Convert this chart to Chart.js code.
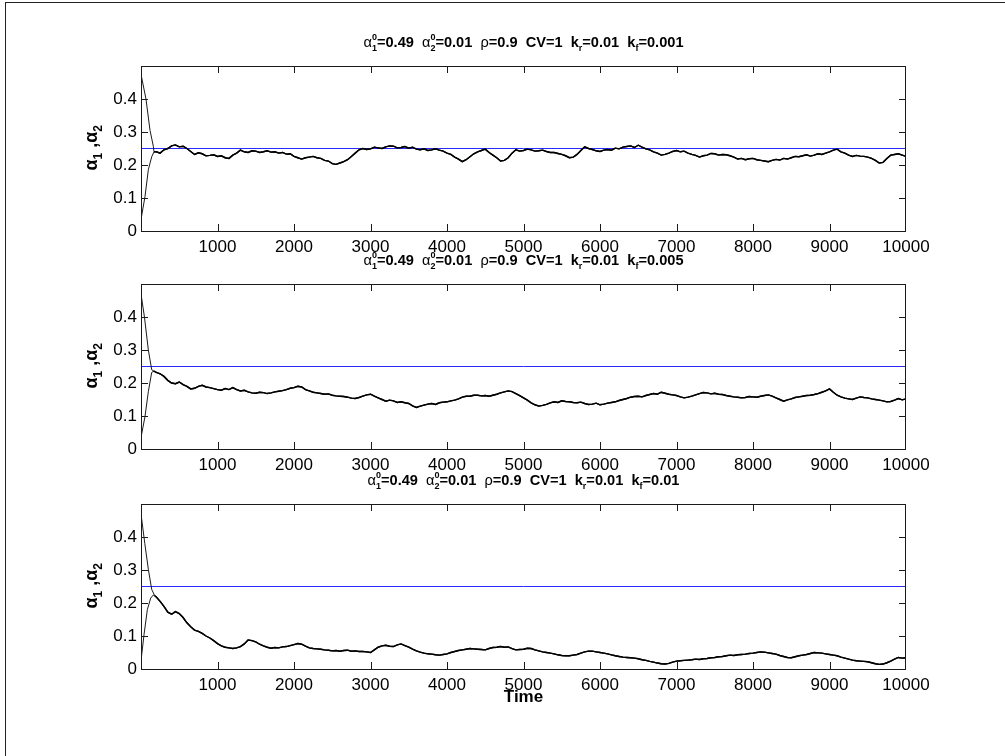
<!DOCTYPE html>
<html>
<head>
<meta charset="utf-8">
<script src="https://cdn.jsdelivr.net/npm/chart.js@4/dist/chart.umd.min.js"></script>
<style>
html, body { margin: 0; padding: 0; background: #fff; }
body { width: 1005px; height: 756px; position: relative; overflow: hidden; }
#frame { position: absolute; left: 5px; top: 2px; width: 1100px; height: 900px;
         border-left: 1px solid #222; border-top: 1px solid #222; }
canvas { position: absolute; left: 0; }
#xlabel { position: absolute; left: 141px; width: 765px; top: 687px; text-align: center;
          font: bold 17px Arial, "Liberation Sans", sans-serif; color: #000; }
</style>
</head>
<body>
<div id="frame"></div>
<canvas id="c1" width="1005" height="251" style="top:20px"></canvas>
<canvas id="c2" width="1005" height="251" style="top:238px"></canvas>
<canvas id="c3" width="1005" height="251" style="top:458px"></canvas>
<div id="xlabel">Time</div>
<script>
// =========================
// DATA
// =========================
const xTicks = [1000, 2000, 3000, 4000, 5000, 6000, 7000, 8000, 9000, 10000];
const yTicks = [0, 0.1, 0.2, 0.3, 0.4];
const target = 0.25;
const kfLabels = ["0.001", "0.005", "0.01"];

// start-up transients: alpha1 falls, alpha2 rises, until they meet
const riseTime1 = [0, 52, 96, 140, 170];
const alpha2Rise1 = [0.035, 0.104, 0.186, 0.225, 0.240];
const fallTime1 = [0, 65, 118, 161, 170];
const alpha1Fall1 = [0.475, 0.400, 0.305, 0.257, 0.240];

const riseTime2 = [0, 52, 96, 140, 170];
const alpha2Rise2 = [0.035, 0.098, 0.174, 0.232, 0.236];
const fallTime2 = [0, 45, 96, 140, 170];
const alpha1Fall2 = [0.470, 0.400, 0.300, 0.240, 0.236];

const riseTime3 = [0, 40, 83, 127, 160, 180];
const alpha2Rise3 = [0.025, 0.105, 0.180, 0.215, 0.224, 0.222];
const fallTime3 = [0, 50, 96, 140, 180];
const alpha1Fall3 = [0.470, 0.380, 0.302, 0.241, 0.222];

// common path after the two meet, every 50 time units from t=200 (one row = 500 units)
const merged1 = [
  0.240, 0.236, 0.246, 0.250, 0.258, 0.261, 0.255, 0.257, 0.250, 0.241,
  0.232, 0.237, 0.234, 0.228, 0.229, 0.231, 0.226, 0.228, 0.222, 0.220,
  0.230, 0.236, 0.245, 0.240, 0.238, 0.243, 0.242, 0.238, 0.240, 0.243,
  0.239, 0.240, 0.236, 0.238, 0.233, 0.234, 0.226, 0.222, 0.218, 0.222,
  0.224, 0.226, 0.222, 0.220, 0.214, 0.212, 0.204, 0.202, 0.206, 0.210,
  0.216, 0.226, 0.236, 0.246, 0.250, 0.247, 0.249, 0.254, 0.252, 0.250,
  0.255, 0.258, 0.257, 0.252, 0.253, 0.256, 0.251, 0.254, 0.248, 0.246,
  0.249, 0.244, 0.246, 0.249, 0.245, 0.242, 0.236, 0.232, 0.224, 0.218,
  0.210, 0.216, 0.225, 0.234, 0.240, 0.244, 0.248, 0.238, 0.230, 0.222,
  0.212, 0.214, 0.222, 0.236, 0.246, 0.242, 0.244, 0.248, 0.246, 0.242,
  0.243, 0.245, 0.241, 0.238, 0.238, 0.235, 0.232, 0.228, 0.222, 0.224,
  0.232, 0.244, 0.255, 0.250, 0.247, 0.243, 0.241, 0.245, 0.247, 0.245,
  0.251, 0.249, 0.254, 0.256, 0.258, 0.253, 0.260, 0.254, 0.249, 0.246,
  0.240, 0.236, 0.230, 0.232, 0.236, 0.241, 0.244, 0.240, 0.242, 0.236,
  0.232, 0.229, 0.224, 0.228, 0.230, 0.235, 0.234, 0.230, 0.232, 0.231,
  0.228, 0.224, 0.218, 0.220, 0.216, 0.219, 0.220, 0.216, 0.214, 0.212,
  0.210, 0.214, 0.217, 0.215, 0.220, 0.218, 0.222, 0.226, 0.225, 0.228,
  0.231, 0.227, 0.230, 0.234, 0.232, 0.236, 0.240, 0.245, 0.248, 0.240,
  0.236, 0.230, 0.226, 0.229, 0.227, 0.226, 0.224, 0.220, 0.214, 0.206,
  0.208, 0.220, 0.230, 0.232, 0.234, 0.230, 0.226
];
const merged2 = [
  0.232, 0.228, 0.220, 0.208, 0.200, 0.198, 0.203, 0.195, 0.190, 0.182,
  0.184, 0.190, 0.193, 0.188, 0.186, 0.183, 0.180, 0.178, 0.183, 0.180,
  0.186, 0.180, 0.176, 0.178, 0.173, 0.170, 0.169, 0.172, 0.171, 0.168,
  0.170, 0.173, 0.175, 0.177, 0.180, 0.184, 0.186, 0.190, 0.188, 0.180,
  0.176, 0.172, 0.170, 0.168, 0.166, 0.167, 0.163, 0.161, 0.160, 0.159,
  0.157, 0.154, 0.153, 0.156, 0.160, 0.164, 0.166, 0.160, 0.155, 0.150,
  0.145, 0.148, 0.146, 0.141, 0.143, 0.140, 0.138, 0.131, 0.126, 0.130,
  0.133, 0.136, 0.138, 0.135, 0.140, 0.142, 0.143, 0.146, 0.148, 0.152,
  0.157, 0.160, 0.160, 0.163, 0.163, 0.161, 0.162, 0.160, 0.163, 0.166,
  0.170, 0.173, 0.176, 0.174, 0.168, 0.162, 0.155, 0.148, 0.140, 0.134,
  0.130, 0.132, 0.135, 0.140, 0.143, 0.141, 0.146, 0.144, 0.143, 0.141,
  0.140, 0.142, 0.138, 0.135, 0.136, 0.139, 0.134, 0.136, 0.139, 0.141,
  0.143, 0.147, 0.150, 0.153, 0.157, 0.159, 0.160, 0.158, 0.162, 0.165,
  0.168, 0.166, 0.172, 0.169, 0.166, 0.164, 0.162, 0.158, 0.155, 0.157,
  0.160, 0.164, 0.168, 0.171, 0.170, 0.167, 0.169, 0.166, 0.165, 0.162,
  0.160, 0.158, 0.157, 0.155, 0.156, 0.159, 0.158, 0.157, 0.160, 0.162,
  0.164, 0.160, 0.155, 0.150, 0.145, 0.149, 0.152, 0.156, 0.158, 0.160,
  0.162, 0.163, 0.165, 0.168, 0.172, 0.176, 0.182, 0.172, 0.163, 0.158,
  0.154, 0.152, 0.150, 0.154, 0.158, 0.156, 0.155, 0.152, 0.150, 0.148,
  0.146, 0.143, 0.144, 0.148, 0.153, 0.149, 0.152
];
const merged3 = [
  0.218, 0.205, 0.190, 0.172, 0.166, 0.174, 0.168, 0.156, 0.140, 0.128,
  0.118, 0.114, 0.108, 0.100, 0.094, 0.086, 0.077, 0.070, 0.066, 0.064,
  0.062, 0.064, 0.068, 0.076, 0.088, 0.086, 0.082, 0.075, 0.070, 0.066,
  0.063, 0.065, 0.064, 0.067, 0.068, 0.071, 0.074, 0.077, 0.075, 0.069,
  0.064, 0.062, 0.061, 0.060, 0.058, 0.057, 0.055, 0.056, 0.054, 0.056,
  0.057, 0.054, 0.055, 0.053, 0.053, 0.052, 0.050, 0.058, 0.066, 0.070,
  0.072, 0.069, 0.068, 0.073, 0.076, 0.071, 0.066, 0.060, 0.055, 0.051,
  0.048, 0.046, 0.045, 0.043, 0.042, 0.044, 0.046, 0.050, 0.053, 0.056,
  0.058, 0.060, 0.062, 0.061, 0.060, 0.059, 0.058, 0.062, 0.065, 0.066,
  0.068, 0.066, 0.067, 0.062, 0.058, 0.059, 0.060, 0.063, 0.062, 0.058,
  0.055, 0.052, 0.050, 0.048, 0.046, 0.043, 0.041, 0.040, 0.040, 0.042,
  0.044, 0.048, 0.052, 0.054, 0.054, 0.052, 0.050, 0.048, 0.046, 0.043,
  0.040, 0.038, 0.036, 0.035, 0.034, 0.033, 0.031, 0.028, 0.026, 0.023,
  0.021, 0.018, 0.016, 0.015, 0.017, 0.021, 0.024, 0.025, 0.026, 0.027,
  0.028, 0.030, 0.029, 0.031, 0.032, 0.034, 0.035, 0.037, 0.038, 0.040,
  0.042, 0.041, 0.043, 0.044, 0.045, 0.047, 0.048, 0.050, 0.052, 0.051,
  0.049, 0.047, 0.045, 0.041, 0.038, 0.035, 0.034, 0.037, 0.040, 0.042,
  0.044, 0.047, 0.050, 0.049, 0.048, 0.046, 0.044, 0.042, 0.040, 0.036,
  0.033, 0.030, 0.027, 0.025, 0.024, 0.023, 0.022, 0.019, 0.016, 0.014,
  0.015, 0.019, 0.024, 0.030, 0.035, 0.033, 0.034
];

// =========================
// HELPERS
// =========================
const FONT = 'Arial, "Liberation Sans", sans-serif';
const TARGET_BLUE = "#2a2aff";

function pts(times, vals) {
  return times.map((t, i) => ({ x: t, y: vals[i] }));
}
function mergedPts(vals) {
  return vals.map((v, i) => ({ x: 200 + i * 50, y: v }));
}

// text runs: {t} bold text, {g} greek letter, {sub, sup} stacked scripts
function richWidth(ctx, parts, size) {
  let w = 0;
  parts.forEach(p => {
    if (p.t !== undefined) { ctx.font = `bold ${size}px ${FONT}`; w += ctx.measureText(p.t).width; }
    else if (p.g !== undefined) { ctx.font = `${size}px ${FONT}`; w += ctx.measureText(p.g).width; }
    else {
      ctx.font = `bold ${Math.round(size * 0.65)}px ${FONT}`;
      w += Math.max(p.sub ? ctx.measureText(p.sub).width : 0, p.sup ? ctx.measureText(p.sup).width : 0);
    }
  });
  return w;
}
function drawRich(ctx, parts, x, y, size, gBold) {
  ctx.textAlign = "left";
  ctx.textBaseline = "alphabetic";
  ctx.fillStyle = "#000";
  parts.forEach(p => {
    if (p.t !== undefined) {
      ctx.font = `bold ${size}px ${FONT}`;
      ctx.fillText(p.t, x, y);
      x += ctx.measureText(p.t).width;
    } else if (p.g !== undefined) {
      ctx.font = `${gBold ? "bold " : ""}${size}px ${FONT}`;
      ctx.fillText(p.g, x, y);
      x += ctx.measureText(p.g).width;
    } else {
      ctx.font = `bold ${Math.round(size * 0.65)}px ${FONT}`;
      let w = 0;
      if (p.sub) { ctx.fillText(p.sub, x, y + size * 0.3); w = ctx.measureText(p.sub).width; }
      if (p.sup) { ctx.fillText(p.sup, x, y - size * 0.45); w = Math.max(w, ctx.measureText(p.sup).width); }
      x += w;
    }
  });
}

function titleParts(kf) {
  return [
    { g: "α" }, { sub: "1", sup: "0" }, { t: "=0.49  " },
    { g: "α" }, { sub: "2", sup: "0" }, { t: "=0.01  " },
    { g: "ρ" }, { t: "=0.9  CV=1  k" }, { sub: "r" }, { t: "=0.01  k" }, { sub: "f" }, { t: "=" + kf }
  ];
}
const yLabelParts = [{ g: "α" }, { sub: "1" }, { t: " ," }, { g: "α" }, { sub: "2" }];

// =========================
// AXES BOX, INWARD TICKS, TEXT
// =========================
const matlabAxes = {
  id: "matlabAxes",
  afterDraw(chart, args, opts) {
    const { ctx, chartArea: a, scales: { x, y } } = chart;
    ctx.save();
    ctx.strokeStyle = "#1a1a1a";
    ctx.lineWidth = 1;
    ctx.strokeRect(a.left + 0.5, a.top + 0.5, a.right - a.left - 1, a.bottom - a.top);
    ctx.beginPath();
    xTicks.slice(0, -1).forEach(t => {
      const px = Math.round(x.getPixelForValue(t)) + 0.5;
      ctx.moveTo(px, a.bottom); ctx.lineTo(px, a.bottom - 7);
      ctx.moveTo(px, a.top); ctx.lineTo(px, a.top + 7);
    });
    yTicks.slice(1).forEach(v => {
      const py = Math.round(y.getPixelForValue(v)) + 0.5;
      ctx.moveTo(a.left, py); ctx.lineTo(a.left + 7, py);
      ctx.moveTo(a.right, py); ctx.lineTo(a.right - 7, py);
    });
    ctx.stroke();

    // title
    const parts = titleParts(opts.kf);
    const tw = richWidth(ctx, parts, 14.6);
    drawRich(ctx, parts, (a.left + a.right) / 2 - tw / 2, a.top - 19, 14.6, false);

    // y label, rotated
    const lw = richWidth(ctx, yLabelParts, 18);
    ctx.save();
    ctx.translate(97, (a.top + a.bottom) / 2);
    ctx.rotate(-Math.PI / 2);
    drawRich(ctx, yLabelParts, -lw / 2, 0, 18, true);
    ctx.restore();
    ctx.restore();
  }
};

// =========================
// BUILD ONE PANEL
// =========================
function makePanel(id, fallT, fallV, riseT, riseV, merged, kf) {
  const mergedData = mergedPts(merged);
  const thinStart = { borderWidth: c => (c.p1.parsed.x <= 180 ? 0.9 : 1.4) };
  return new Chart(document.getElementById(id), {
    type: "line",
    data: {
      datasets: [
        {
          label: "target",
          data: [{ x: 0, y: target }, { x: 10000, y: target }],
          borderColor: TARGET_BLUE, borderWidth: 1, order: 3
        },
        {
          label: "alpha1",
          data: pts(fallT, fallV).concat(mergedData),
          borderColor: "#000", borderWidth: 1.4, segment: thinStart, order: 1
        },
        {
          label: "alpha2",
          data: pts(riseT, riseV).concat(mergedData),
          borderColor: "#000", borderWidth: 1.4, segment: thinStart, order: 2
        }
      ]
    },
    options: {
      responsive: false,
      animation: false,
      devicePixelRatio: 1,
      elements: { point: { radius: 0 }, line: { tension: 0 } },
      layout: { padding: { left: 0, right: 99, top: 46, bottom: 0 } },
      plugins: {
        legend: { display: false },
        tooltip: { enabled: false },
        matlabAxes: { kf: kf }
      },
      scales: {
        x: {
          type: "linear", min: 0, max: 10000,
          grid: { display: false, drawTicks: false },
          border: { display: false },
          afterBuildTicks: s => { s.ticks = xTicks.map(v => ({ value: v })); },
          afterFit: s => { s.height = 40; },
          ticks: {
            padding: 6, color: "#000", maxRotation: 0, autoSkip: false,
            font: { family: FONT, size: 17 },
            callback: v => String(v)
          }
        },
        y: {
          min: 0, max: 0.5,
          grid: { display: false, drawTicks: false },
          border: { display: false },
          afterBuildTicks: s => { s.ticks = yTicks.map(v => ({ value: v })); },
          afterFit: s => { s.width = 141; },
          ticks: {
            padding: 4, color: "#000",
            font: { family: FONT, size: 17 },
            callback: v => (v === 0 ? "0" : v.toFixed(1))
          }
        }
      }
    },
    plugins: [matlabAxes]
  });
}

makePanel("c1", fallTime1, alpha1Fall1, riseTime1, alpha2Rise1, merged1, kfLabels[0]);
makePanel("c2", fallTime2, alpha1Fall2, riseTime2, alpha2Rise2, merged2, kfLabels[1]);
makePanel("c3", fallTime3, alpha1Fall3, riseTime3, alpha2Rise3, merged3, kfLabels[2]);
</script>
</body>
</html>
